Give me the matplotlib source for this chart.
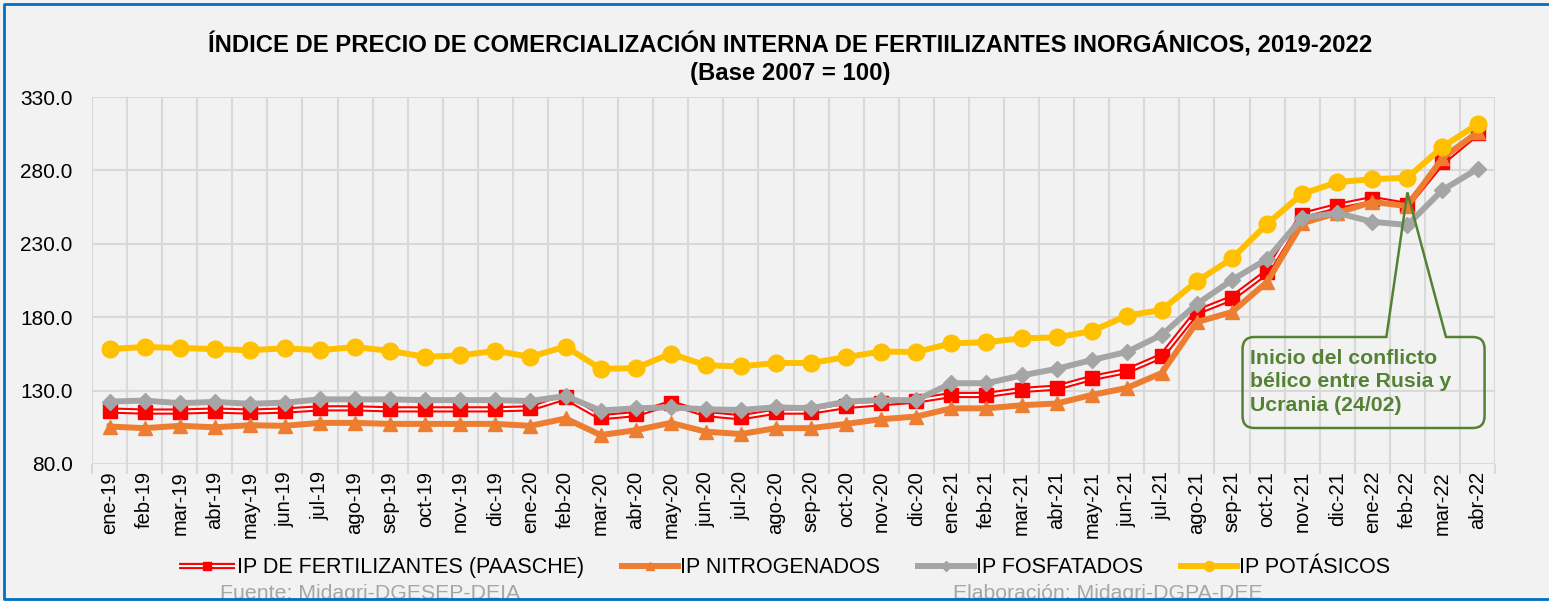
import numpy as np
import matplotlib
matplotlib.use("Agg")
from matplotlib import pyplot as plt
from matplotlib.path import Path
from matplotlib.patches import PathPatch
from matplotlib.lines import Line2D

plt.rcParams['font.family'] = ['Liberation Sans', 'DejaVu Sans']

# datos
meses = ["ene", "feb", "mar", "abr", "may", "jun", "jul", "ago", "sep", "oct", "nov", "dic"]
etiquetas = [f"{m}-{a}" for a in ("19", "20", "21") for m in meses] + ["ene-22", "feb-22", "mar-22", "abr-22"]

paasche = [116.4, 115.7, 115.7, 116.4, 115.7, 116.4, 117.9, 117.9, 117.2, 117.2, 117.2, 117.2,
           117.9, 125.4, 111.8, 114.0, 121.4, 114.0, 111.8, 115.7, 115.7, 119.5, 121.4, 123.2,
           127.0, 127.0, 130.4, 132.0, 138.6, 143.3, 153.6, 183.5, 193.0, 210.8, 249.6, 255.7,
           260.5, 256.4, 285.7, 305.5]
nitrogenados = [105.5, 104.4, 106.0, 105.0, 106.4, 106.0, 108.0, 108.0, 107.3, 107.3, 107.3, 107.3,
                106.0, 111.0, 99.7, 103.0, 108.0, 102.0, 100.4, 104.4, 104.4, 107.3, 110.5, 112.3,
                117.9, 117.9, 120.0, 121.2, 127.0, 131.8, 142.0, 176.7, 183.5, 204.0, 244.0, 251.0,
                258.5, 255.7, 288.4, 306.0]
fosfatados = [122.5, 123.2, 121.4, 122.3, 121.0, 121.8, 124.0, 124.0, 124.0, 123.5, 123.5, 123.5,
              122.9, 126.3, 116.4, 117.9, 118.6, 117.2, 116.8, 118.6, 117.9, 122.5, 123.5, 123.5,
              135.0, 135.0, 140.3, 144.8, 150.8, 156.3, 168.0, 189.0, 205.3, 219.6, 247.6, 251.0,
              245.0, 242.8, 266.6, 281.0]
potasicos = [158.3, 159.7, 159.0, 158.3, 157.5, 158.8, 157.5, 159.7, 157.0, 153.0, 154.0, 157.0,
             153.0, 160.0, 144.8, 145.3, 155.2, 147.2, 146.5, 148.8, 148.8, 152.8, 156.6, 156.3,
             162.2, 163.0, 165.6, 166.2, 170.5, 181.0, 185.0, 204.5, 220.0, 243.5, 264.0, 272.0,
             274.0, 275.0, 296.0, 311.5]

BG = "#F2F2F2"
GRID = "#D9D9D9"
VERDE = "#548235"
AZUL = "#0070C0"

fig = plt.figure(figsize=(15.49, 6.01), dpi=100, facecolor=BG)
ax = fig.add_axes([0.0594, 0.228, 0.9058, 0.6106], facecolor=BG)

x = np.arange(len(etiquetas))

# serie Paasche: linea doble roja con centro blanco
l1, = ax.plot(x, paasche, color="#FF0000", lw=4.5, solid_capstyle="butt", zorder=3)
l2, = ax.plot(x, paasche, color="white", lw=1.5, zorder=3.1)
l3, = ax.plot(x, paasche, ls="none", marker="s", ms=10, color="#FF0000", zorder=3.2)
l4, = ax.plot(x, nitrogenados, color="#ED7D31", lw=4.3, marker="^", ms=10, zorder=4)
l5, = ax.plot(x, fosfatados, color="#A5A5A5", lw=4.3, marker="D", ms=8, zorder=5)
l6, = ax.plot(x, potasicos, color="#FFC000", lw=4.3, marker="o", ms=12, zorder=6)

ax.set_xlim(-0.5, len(etiquetas) - 0.5)
ax.set_ylim(80, 330)
ax.set_yticks(np.arange(80, 331, 50))
ax.set_yticklabels([f"{v:.1f}" for v in np.arange(80, 331, 50)])
ax.set_xticks(x)
ax.set_xticklabels(etiquetas, rotation=90)
ax.set_xticks(np.arange(-0.5, len(etiquetas)), minor=True)

ax.tick_params(axis="y", length=0, pad=14, labelsize=15)
ax.tick_params(axis="x", which="major", length=0, pad=5, labelsize=14.5)
ax.tick_params(axis="x", which="minor", length=7, width=1.5, color=GRID)
ax.grid(axis="y", which="major", color=GRID, lw=1.5, zorder=0)
ax.grid(axis="x", which="minor", color=GRID, lw=1.5, zorder=0)
ax.set_axisbelow(True)
for s in ax.spines.values():
    s.set_visible(False)

# llamada: inicio del conflicto
bx0, bx1, by0, by1 = 32.3, 39.2, 104.5, 166.5
rx, ry = 0.34, 8.2
w0, w1 = 36.4, 38.1
tip = (37, 265)
verts = [(bx0 + rx, by1), (w0, by1), tip, (w1, by1), (bx1 - rx, by1),
         (bx1, by1), (bx1, by1 - ry), (bx1, by0 + ry),
         (bx1, by0), (bx1 - rx, by0), (bx0 + rx, by0),
         (bx0, by0), (bx0, by0 + ry), (bx0, by1 - ry),
         (bx0, by1), (bx0 + rx, by1)]
codes = [Path.MOVETO, Path.LINETO, Path.LINETO, Path.LINETO, Path.LINETO,
         Path.CURVE3, Path.CURVE3, Path.LINETO,
         Path.CURVE3, Path.CURVE3, Path.LINETO,
         Path.CURVE3, Path.CURVE3, Path.LINETO,
         Path.CURVE3, Path.CURVE3]
ax.add_patch(PathPatch(Path(verts, codes), facecolor="none", edgecolor=VERDE, lw=1.8, zorder=7))
ax.text(bx0 + 0.2, by1 - 8, "Inicio del conflicto\nbélico entre Rusia y\nUcrania (24/02)",
        color=VERDE, fontsize=15.3, fontweight="bold", va="top", ha="left",
        linespacing=1.3, zorder=8)

# titulo
fig.text(0.51, 0.925, "ÍNDICE DE PRECIO DE COMERCIALIZACIÓN INTERNA DE FERTIILIZANTES INORGÁNICOS, 2019-2022",
         ha="center", va="center", fontsize=17.2, fontweight="bold")
fig.text(0.51, 0.877, "(Base 2007 = 100)", ha="center", va="center", fontsize=17.2, fontweight="bold")

# leyenda
handles = [(l1, l2, l3), l4, l5, l6]
nombres = ["IP DE FERTILIZANTES (PAASCHE)", "IP NITROGENADOS", "IP FOSFATADOS", "IP POTÁSICOS"]
fig.legend(handles, nombres, loc="center", bbox_to_anchor=(0.5065, 0.055), ncol=4,
           frameon=False, fontsize=15.5, handlelength=2.6, handletextpad=0.1,
           columnspacing=1.75, markerscale=0.6, borderpad=0)

# fuentes
fig.text(220 / 1549, 0.012, "Fuente: Midagri-DGESEP-DEIA", color="#A6A6A6", fontsize=15.3, va="center")
fig.text(953 / 1549, 0.012, "Elaboración: Midagri-DGPA-DEE", color="#A6A6A6", fontsize=15.3, va="center")

# borde azul (sin lado derecho)
W, H = 1549, 601
bx = [1.0, 3.5 / W, 3.5 / W, 1.0]
by = [1 - 3.5 / H, 1 - 3.5 / H, 2.5 / H, 2.5 / H]
fig.lines.append(Line2D(bx, by, transform=fig.transFigure, color=AZUL, lw=2, zorder=10))

fig.savefig("out.png", dpi=100, facecolor=BG)
